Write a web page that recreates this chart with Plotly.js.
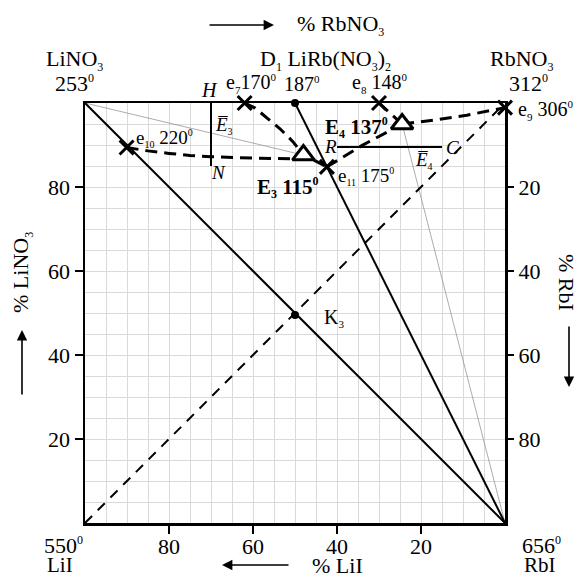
<!DOCTYPE html>
<html>
<head>
<meta charset="utf-8">
<script src="https://cdn.plot.ly/plotly-3.0.1.min.js"></script>
<style>html,body{margin:0;padding:0;background:#fff;}#chart{width:583px;height:578px;}</style>
</head>
<body>
<div id="chart"></div>
<script>
// ---- data (x = % Rb salt, y = % nitrate) ----
const tickVals = [20, 40, 60, 80];
const tickTextDirect = ['20', '40', '60', '80'];
const tickTextReverse = ['80', '60', '40', '20'];

const cornerX = [0, 100, 0, 100];   // LiNO3, RbNO3, LiI, RbI
const cornerY = [100, 100, 0, 0];

const diagX = [0, 100], diagY = [100, 0];          // LiNO3 - RbI
const d1LineX = [50, 100], d1LineY = [100, 0];     // D1 - RbI
const stableX = [0, 100], stableY = [0, 100];      // LiI - RbNO3 (dashed)
const thin1X = [0, 52], thin1Y = [100, 87.6];      // LiNO3 - E3
const thin2X = [75.5, 100], thin2Y = [95, 0];      // E4 - RbI
const hnX = [30, 30], hnY = [100, 85];             // H - N
const rcX = [60, 85], rcY = [89.5, 89.5];          // R - C

const curveE7X = [38, 40.5, 43.5, 46.5, 49.5, 52];
const curveE7Y = [100, 98.8, 96.3, 93.8, 90.8, 87.6];
const curveE10X = [9.9, 15, 20, 25, 30, 35, 40, 45, 49.5];
const curveE10Y = [89.4, 88.6, 88.0, 87.5, 87.2, 87.0, 86.9, 86.8, 86.7];
const curveE3e11X = [54.5, 57.6];
const curveE3e11Y = [86.4, 84.8];
const curveE11X = [57.6, 66, 75.5];
const curveE11Y = [84.8, 89.9, 95];
const curveE9X = [75.5, 83.7, 90.9, 97.2, 100];
const curveE9Y = [95, 96.0, 97.1, 98.3, 98.9];
const curveE8X = [70, 75.5];
const curveE8Y = [100, 95];

const eutX = [38, 70, 100, 9.9, 57.6];   // e7, e8, e9, e10, e11
const eutY = [100, 100, 98.9, 89.4, 84.8];
const dotX = [50, 50];                  // D1, K3
const dotY = [100, 49.5];
const triX = [52, 75.5];                // E3, E4
const triY = [87.6, 95];

// ---- drawing ----
const FONT = '"Liberation Serif", "Times New Roman", Times, serif';
const PX = p => (p - 85) / 420;
const PY = p => (523 - p) / 420;

function line(x, y, w, color, dash) {
  return {type: 'scatter', mode: 'lines', x: x, y: y, hoverinfo: 'skip',
          line: {color: color, width: w, dash: dash || 'solid'}, cliponaxis: false};
}
const DASH = '12px,7px';
const traces = [
  {type: 'scatter', mode: 'none', x: cornerX, y: cornerY, yaxis: 'y2', hoverinfo: 'skip'},
  line(thin1X, thin1Y, 0.7, '#888'),
  line(thin2X, thin2Y, 0.7, '#888'),
  line(diagX, diagY, 2, '#000'),
  line(d1LineX, d1LineY, 2, '#000'),
  line(stableX, stableY, 2, '#000', '10px,8px'),
  line(hnX, hnY, 2, '#000'),
  line(rcX, rcY, 2, '#000'),
  line(curveE7X, curveE7Y, 3, '#000', DASH),
  line(curveE10X, curveE10Y, 3, '#000', DASH),
  line(curveE3e11X, curveE3e11Y, 3, '#000', DASH),
  line(curveE11X, curveE11Y, 3, '#000', DASH),
  line(curveE9X, curveE9Y, 3, '#000', DASH),
  line(curveE8X, curveE8Y, 3, '#000', DASH),
  {type: 'scatter', mode: 'markers', x: eutX, y: eutY, hoverinfo: 'skip', cliponaxis: false,
   marker: {symbol: 'x-thin-open', size: 14, color: '#000', line: {color: '#000', width: 3}}},
  {type: 'scatter', mode: 'markers', x: dotX, y: dotY, hoverinfo: 'skip', cliponaxis: false,
   marker: {symbol: 'circle', size: 8, color: '#000'}},
  {type: 'scatter', mode: 'markers', x: triX, y: triY, hoverinfo: 'skip', cliponaxis: false,
   marker: {symbol: 'triangle-up', size: 19, color: '#fff', line: {color: '#000', width: 3}}}
];

function lab(px, py, text, size, opts) {
  return Object.assign({xref: 'paper', yref: 'paper', x: PX(px), y: PY(py), text: text,
    showarrow: false, xanchor: 'center', yanchor: 'middle',
    font: {family: FONT, size: size, color: '#000'}}, opts || {});
}
function arrow(hx, hy, ax, ay) {
  return {xref: 'paper', yref: 'paper', x: PX(hx), y: PY(hy), ax: ax, ay: ay, text: '',
    showarrow: true, arrowhead: 2, arrowsize: 1.3, arrowwidth: 1.6, arrowcolor: '#000', standoff: 0};
}
const sb = (t, s) => '<sub><span style="font-size:' + (s || 12) + 'px">' + t + '</span></sub>';
const deg = s => '<sup><span style="font-size:' + (s || 12) + 'px">0</span></sup>';
const annotations = [
  lab(340, 25, '% RbNO' + sb('3'), 22),
  arrow(274, 25, -66, 0),
  lab(74, 60, 'LiNO' + sb('3'), 22),
  lab(74, 84, '253' + deg(), 22),
  lab(325, 60, 'D' + sb('1') + ' LiRb(NO' + sb('3') + ')' + sb('2'), 22),
  lab(209, 90, '<i>H</i>', 20),
  lab(251, 84, 'e' + sb('7', 11) + '170' + deg(11), 20),
  lab(302, 84, '187' + deg(11), 20),
  lab(379, 84, 'e' + sb('8', 11) + ' 148' + deg(11), 20),
  lab(521, 60, 'RbNO' + sb('3'), 22),
  lab(528, 84, '312' + deg(), 22),
  lab(516, 110, 'e' + sb('9', 11) + ' 306' + deg(11), 20, {xanchor: 'left'}),
  lab(134, 138, 'e' + sb('10', 10) + ' 220' + deg(10), 19, {xanchor: 'left'}),
  lab(213, 125, '<i>E\u0305</i>' + sb('3', 10), 19, {xanchor: 'left'}),
  lab(218, 172, '<i>N</i>', 19),
  lab(330, 146, '<i>R</i>', 19),
  lab(452, 148, '<i>C</i>', 19),
  lab(413, 160, '<i>E\u0305</i>' + sb('4', 10), 19, {xanchor: 'left'}),
  lab(356, 127, '<b>E' + sb('4', 12) + ' 137' + deg(12) + '</b>', 21),
  lab(288, 187, '<b>E' + sb('3', 12) + ' 115' + deg(12) + '</b>', 21),
  lab(336, 176, 'e' + sb('11', 10) + ' 175' + deg(10), 19, {xanchor: 'left'}),
  lab(322, 318, 'K' + sb('3', 11), 20, {xanchor: 'left'}),
  lab(22, 273, '% LiNO' + sb('3'), 22, {textangle: -90}),
  arrow(22, 330, 0, 66),
  lab(567, 282, '% RbI', 22, {textangle: 90}),
  arrow(569, 387, 0, -62),
  lab(63, 545, '550' + deg(), 22),
  lab(60, 565, 'LiI', 21),
  lab(541, 545, '656' + deg(), 22),
  lab(540, 565, 'RbI', 21),
  lab(337, 565, '% LiI', 22),
  arrow(222, 565, 68, 0)
];

const axisCommon = {
  range: [0, 100], tickvals: tickVals, ticks: 'outside', ticklen: 8, tickwidth: 1.5, tickcolor: '#000',
  showline: true, linewidth: 2.5, linecolor: '#000', mirror: true, zeroline: false,
  showgrid: true, gridcolor: '#dadada', gridwidth: 1,
  minor: {dtick: 5, tick0: 0, showgrid: true, gridcolor: '#dadada', gridwidth: 1, ticks: ''},
  tickfont: {family: FONT, size: 22, color: '#000'}, fixedrange: true
};
const layout = {
  width: 583, height: 578,
  margin: {l: 85, r: 78, t: 103, b: 55, pad: 0},
  paper_bgcolor: '#fff', plot_bgcolor: '#fff', showlegend: false,
  xaxis: Object.assign({}, axisCommon, {ticktext: tickTextReverse, ticklabelstandoff: -6}),
  yaxis: Object.assign({}, axisCommon, {ticktext: tickTextDirect}),
  yaxis2: {range: [0, 100], overlaying: 'y', side: 'right', tickvals: tickVals, ticktext: tickTextReverse,
    ticks: 'outside', ticklen: 8, tickwidth: 1.5, tickcolor: '#000', showgrid: false, showline: false,
    zeroline: false, tickfont: {family: FONT, size: 22, color: '#000'}, fixedrange: true},
  annotations: annotations
};
Plotly.newPlot('chart', traces, layout, {staticPlot: true, displayModeBar: false});
</script>
</body>
</html>
